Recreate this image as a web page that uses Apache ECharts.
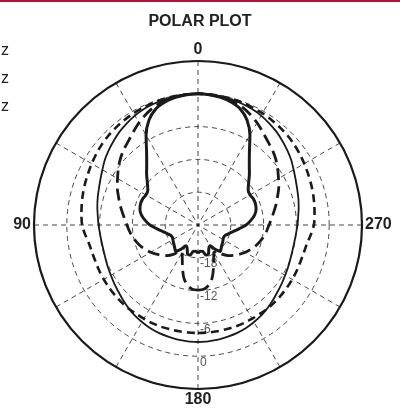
<!DOCTYPE html>
<html>
<head>
<meta charset="utf-8">
<script src="https://cdn.jsdelivr.net/npm/echarts@6/dist/echarts.min.js"></script>
<style>
  html, body { margin: 0; padding: 0; background: #fff; }
  #chart { width: 400px; height: 410px; }
</style>
</head>
<body>
<div id="chart"></div>
<script>
// angles (deg, 0 = front/top, counter-clockwise to 180 = back), left half; right half is mirrored
var angles = [0, 5, 10, 15, 20, 25, 30, 35, 40, 45, 50, 55, 60, 65, 70, 75, 80, 85, 90,
  95, 100, 105, 110, 115, 120, 125, 130, 135, 140, 145, 150, 155, 160, 165, 170, 175, 180]

// relative level in dB
var narrowSolid = [0, -0.1, -0.3, -0.7, -1.4, -2.8, -5.0, -7.6, -9.4, -10.7, -11.9, -12.8, -13.0, -12.8, -12.8, -13.0, -13.5, -14.3, -15.2,
  -16.4, -17.4, -18.1, -18.6, -18.8, -18.7, -18.5, -18.3, -18.0, -17.7, -18.6, -19.6, -19.3, -18.4, -18.3, -19.1, -19.2, -18.8]
var longDash = [0, -0.05, -0.2, -0.5, -0.9, -1.6, -2.4, -3.3, -4.1, -4.7, -5.4, -6.2, -7.0, -7.7, -8.5, -9.2, -9.9, -10.5, -11.0,
  -11.4, -11.8, -12.3, -12.8, -13.4, -14.0, -14.7, -15.4, -16.1, -17.0, -18.0, -18.2, -17.2, -15.7, -14.0, -12.8, -12.2, -12.1]
var wideDash = [0, 0, -0.05, -0.1, -0.2, -0.3, -0.4, -0.55, -0.7, -0.85, -1.05, -1.3, -1.55, -1.8, -2.0, -2.2, -2.4, -2.6, -2.8,
  -3.3, -3.8, -4.0, -4.1, -4.1, -4.1, -4.1, -4.1, -4.1, -4.1, -4.2, -4.2, -4.2, -4.2, -4.25, -4.25, -4.25, -4.25]
var midSolid = [0, -0.03, -0.1, -0.25, -0.4, -0.6, -0.9, -1.3, -1.7, -2.2, -2.7, -3.2, -3.8, -4.3, -4.7, -5.0, -5.3, -5.6, -5.8,
  -6.0, -6.1, -6.1, -6.0, -5.8, -5.6, -5.3, -5.0, -4.6, -4.2, -3.8, -3.5, -3.2, -3.0, -2.85, -2.7, -2.65, -2.6]

var legendNames = ['1 kHz', '2 kHz', '4 kHz']
var radiusTicks = [-18, -12, -6, 0]

// axis starts at the bottom (so the dB labels sit on the 180 spoke); shift by 180
function toPolar(vals) {
  var out = []
  for (var i = angles.length - 1; i >= 0; i--) {
    out.push([vals[i], 180 - angles[i]]) // right side
  }
  for (var j = 1; j < angles.length; j++) {
    out.push([vals[j], 180 + angles[j]]) // left side
  }
  return out
}

var chart = echarts.init(document.getElementById('chart'))
var ink = '#1a1a1a'
var font = 'Liberation Sans, Arial, sans-serif'

var option = {
  animation: false,
  title: {
    text: 'POLAR PLOT',
    left: 'center',
    top: 9,
    textStyle: { fontFamily: font, fontSize: 16, fontWeight: 'bold', color: '#222' }
  },
  graphic: [{
    type: 'rect',
    shape: { x: 0, y: 0, width: 400, height: 2 },
    style: { fill: '#a8173d' }
  }],
  legend: {
    data: legendNames,
    orient: 'vertical',
    left: -68,
    top: 38,
    itemGap: 12,
    itemWidth: 25,
    itemHeight: 14,
    textStyle: { fontFamily: font, fontSize: 16, color: '#222' }
  },
  polar: {
    center: [198, 225],
    radius: 164
  },
  angleAxis: {
    type: 'value',
    min: 0,
    max: 360,
    interval: 30,
    startAngle: -90,
    clockwise: false,
    axisLine: { lineStyle: { color: ink, width: 2.2 } },
    axisTick: { show: false },
    axisLabel: {
      margin: 3,
      fontFamily: font,
      fontSize: 16,
      fontWeight: 'bold',
      color: '#222',
      formatter: function(v) {
        var real = (v + 180) % 360
        return real % 90 === 0 && v !== 360 ? String(real) : ''
      }
    },
    splitLine: { show: true, lineStyle: { color: ink, width: 0.8, type: [5, 4] } }
  },
  radiusAxis: {
    type: 'value',
    min: -24,
    max: 6,
    interval: 6,
    axisLine: { show: false },
    axisTick: { show: false },
    axisLabel: {
      fontFamily: font,
      fontSize: 12,
      color: '#555',
      margin: 2,
      verticalAlign: 'top',
      formatter: function(v) {
        return radiusTicks.indexOf(v) >= 0 ? String(v) : ''
      }
    },
    splitLine: { show: true, lineStyle: { color: ink, width: 0.8, type: [5, 4] } }
  },
  series: [
    {
      name: '1 kHz',
      type: 'line',
      coordinateSystem: 'polar',
      showSymbol: false,
      smooth: 0.3,
      lineStyle: { color: ink, width: 1.8 },
      itemStyle: { color: ink },
      data: toPolar(midSolid)
    },
    {
      name: '2 kHz',
      type: 'line',
      coordinateSystem: 'polar',
      showSymbol: false,
      smooth: 0.3,
      lineStyle: { color: ink, width: 2.6, type: [8, 5] },
      itemStyle: { color: ink },
      data: toPolar(wideDash)
    },
    {
      name: '4 kHz',
      type: 'line',
      coordinateSystem: 'polar',
      showSymbol: false,
      smooth: 0.3,
      lineStyle: { color: ink, width: 2.8, type: [12, 6] },
      itemStyle: { color: ink },
      data: toPolar(longDash)
    },
    {
      name: '8 kHz',
      type: 'line',
      coordinateSystem: 'polar',
      showSymbol: false,
      smooth: 0.3,
      lineStyle: { color: ink, width: 3 },
      itemStyle: { color: ink },
      data: toPolar(narrowSolid)
    }
  ]
}

chart.setOption(option)
window.onresize = function() {
  chart.resize()
}
</script>
</body>
</html>
